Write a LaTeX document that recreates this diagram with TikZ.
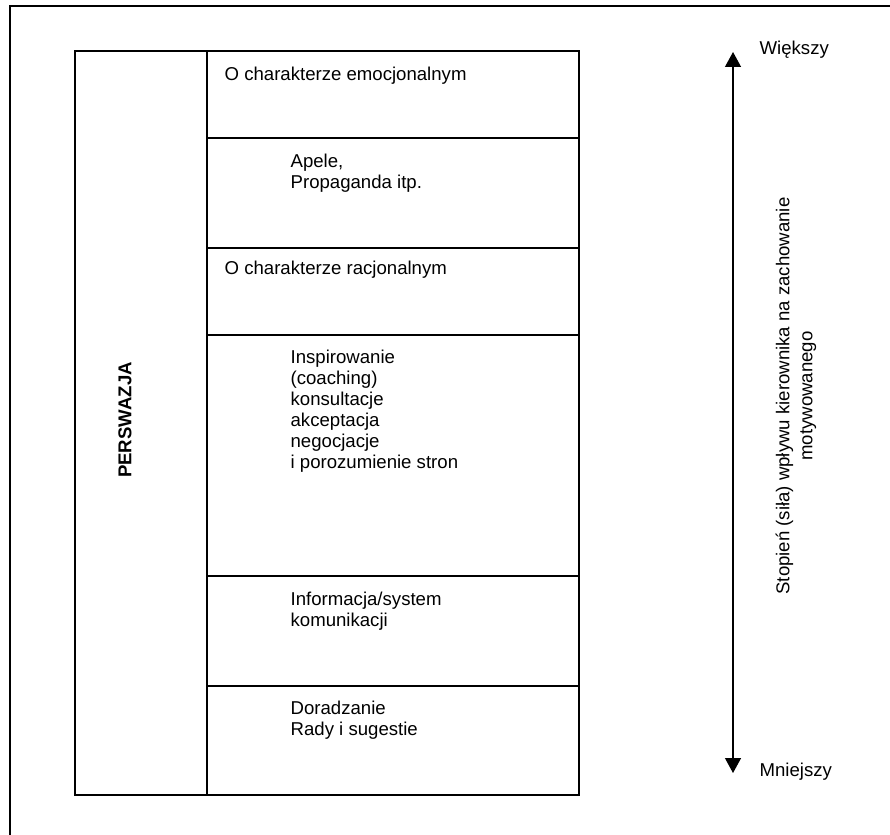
\documentclass[tikz,border=0pt]{standalone}
\usepackage{fontspec}
\setmainfont{Liberation Sans}
\usetikzlibrary{arrows.meta}
\begin{document}
\begin{tikzpicture}[x=1pt,y=-1pt,line width=1.3pt,
  >={Triangle[width=16pt,length=15pt]},
  txt/.style={anchor=north west,inner sep=0pt,align=left,font=\fontsize{18.6}{21}\selectfont},
  side/.style={anchor=west,inner sep=0pt,font=\fontsize{18.6}{21}\selectfont}]
  \useasboundingbox (0,0) rectangle (890,834);
  \clip (0,0) rectangle (890,834);
  \draw (10,6) rectangle (900,850);
  % table
  \draw (75,51) rectangle (579,795);
  \draw (207,51) -- (207,795);
  \foreach \y in {138,248,335,576,686}
    \draw (207,\y) -- (579,\y);
  \node[rotate=90,inner sep=0pt,font=\bfseries\fontsize{18.6}{21}\selectfont] (pers) at (125,420) {PERSWAZJA};
  \node[txt] (emo) at (224,66) {O charakterze emocjonalnym};
  \node[txt] (apele) at (290,153.5) {Apele,\\Propaganda itp.};
  \node[txt] (racj) at (224,260.5) {O charakterze racjonalnym};
  \node[txt] (insp) at (290,349.5) {Inspirowanie\\(coaching)\\konsultacje\\akceptacja\\negocjacje\\i porozumienie stron};
  \node[txt] (info) at (290,591.5) {Informacja/system\\komunikacji};
  \node[txt] (dorad) at (290,700.5) {Doradzanie\\Rady i sugestie};
  % arrow
  \coordinate (top) at (733,52);
  \coordinate (bot) at (733,773);
  \draw[<->] (top) -- (bot);
  \node[side] (wiek) at (759,50) {Większy};
  \node[side] (mniej) at (759,772) {Mniejszy};
  \node[rotate=90,inner sep=0pt,align=center,font=\fontsize{18.6}{23}\selectfont] (stop) at (796,396) {Stopień (siła) wpływu kierownika na zachowanie\\motywowanego};
\end{tikzpicture}
\end{document}
